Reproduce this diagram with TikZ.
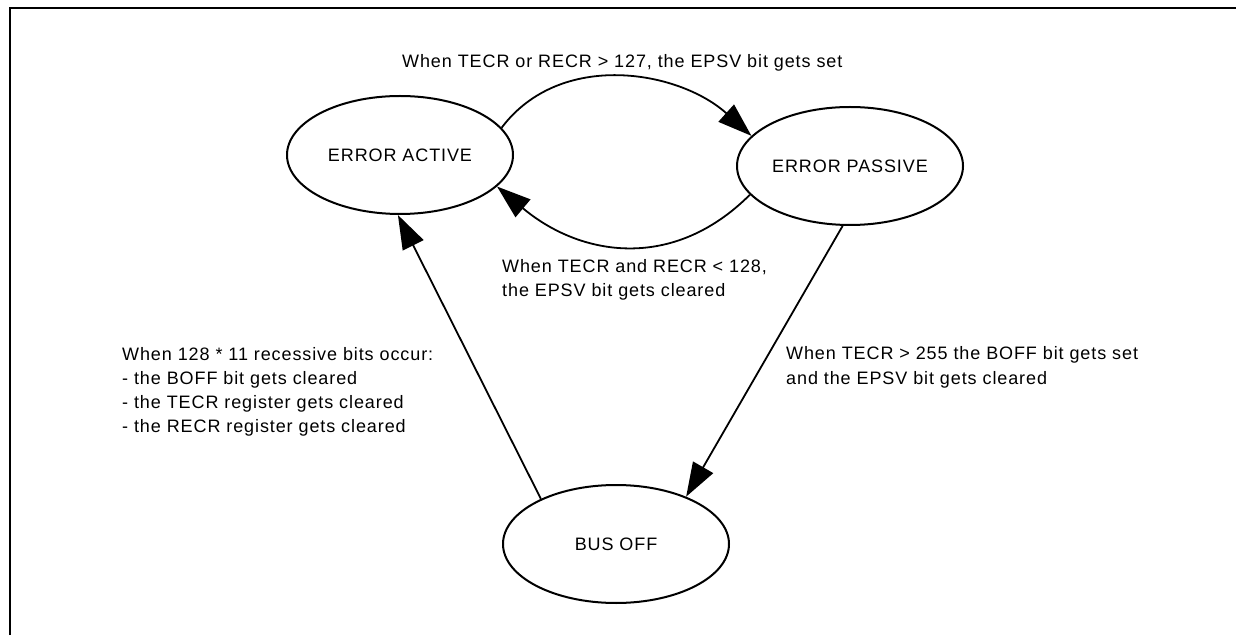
\documentclass[tikz,border=0pt]{standalone}
\usepackage{fontspec}
\setmainfont{Liberation Sans}[LetterSpace=5]
\usepackage{tikz}
\usetikzlibrary{shapes.geometric}
\usetikzlibrary{arrows.meta}

\begin{document}
\begin{tikzpicture}[x=1pt, y=1pt,
    font=\fontsize{18}{24}\selectfont,
    state/.style={ellipse, draw, line width=2pt, minimum width=226pt, minimum height=118pt, inner sep=0pt},
    trans/.style={line width=1.8pt, -{Triangle[length=34pt, width=23pt]}},
    note/.style={anchor=base west, align=left, inner sep=0pt}]
      \useasboundingbox (0,0) rectangle (1236,635);

      % Figure frame
      \draw[line width=2pt] (10,0) -- (10,627) -- (1236,627);

      % The three error states
      \node[state] (act) at (400,480) {ERROR ACTIVE};
      \node[state] (pas) at (850,469) {ERROR PASSIVE};
      \node[state] (bus) at (616,91) {BUS OFF};

      % Active <-> passive
      \draw[trans] (act.15) to[out=53, in=138] (pas.163);
      \draw[trans] (pas.196) to[out=225, in=-40, looseness=1.1] (act.342);

      % Bus off transitions
      \draw[trans] (pas.263) -- (bus.34);
      \draw[trans] (bus.149) -- (act.268);

      % Conditions (base = last line)
      \node[note] (setlbl) at (402,567) {When TECR or RECR > 127, the EPSV bit gets set};
      \node[note] (clrlbl) at (502,338) {When TECR and RECR < 128,\\the EPSV bit gets cleared};
      \node[note] (offlbl) at (786,251) {When TECR > 255 the BOFF bit gets set\\and the EPSV bit gets cleared};
      \node[note] (reclbl) at (122,203) {When 128 * 11 recessive bits occur:\\- the BOFF bit gets cleared\\- the TECR register gets cleared\\- the RECR register gets cleared};
    \end{tikzpicture}
\end{document}
